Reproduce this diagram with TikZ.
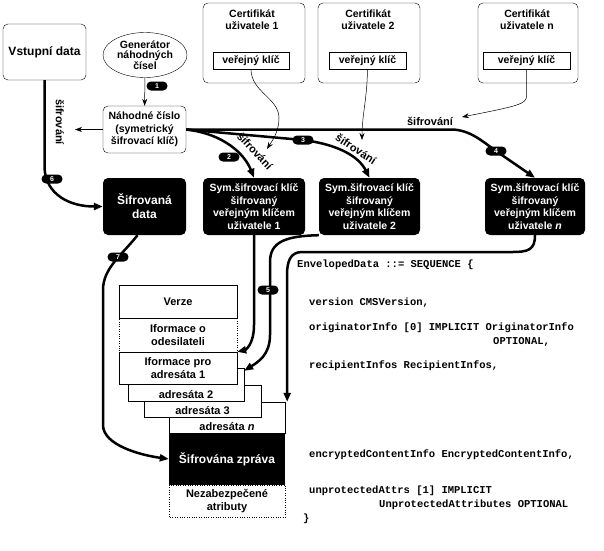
\documentclass[tikz,border=0pt]{standalone}
\usepackage{fontspec}
\setmainfont{Liberation Sans}
\setmonofont{Liberation Mono}
\usetikzlibrary{shapes.geometric,arrows.meta}

\begin{document}
\begin{tikzpicture}[x=1pt, y=-1pt,
    every node/.style={font=\fontsize{10.5}{12.5}\selectfont\bfseries, align=center, inner sep=0pt},
    bigtext/.style={font=\fontsize{12}{14}\selectfont\bfseries},
    wbox/.style={draw, fill=white, rounded corners=5pt},
    bbox/.style={fill=black, text=white, rounded corners=5pt},
    kbox/.style={draw, fill=white, minimum height=17pt},
    sbox/.style={draw, fill=white, font=\fontsize{11}{13}\selectfont\bfseries},
    sif/.style={font=\fontsize{11}{13}\selectfont\bfseries},
    pill/.style={fill=black, text=white, rounded corners=4.4pt, minimum width=21pt, minimum height=9pt, font=\fontsize{7}{7}\selectfont\bfseries},
    code/.style={font=\fontsize{10.5}{12}\selectfont\ttfamily\bfseries, anchor=base west},
    flow/.style={line width=2.5pt, -{Triangle[length=9pt,width=7pt]}},
    link/.style={line width=0.5pt, -{Stealth[length=7pt,width=5pt]}}]
    \useasboundingbox (0,0) rectangle (604,550);

    % sender side
    \node[wbox, minimum width=83pt, minimum height=56pt, bigtext] (vstup) at (44.5,52) {Vstupní data};
    \node[draw, ellipse, fill=white, minimum width=84pt, minimum height=45pt, font=\fontsize{10.5}{10.5}\selectfont\bfseries] (gen) at (145,55) {Generátor\\náhodných\\čísel};
    \node[wbox, minimum width=83pt, minimum height=47pt] (nahod) at (144.5,129.5) {Náhodné číslo\\(symetrický\\šifrovací klíč)};

    % certificates
    \node[wbox, minimum width=102pt, minimum height=80pt] (cert1) at (254,43) {};
    \node (cert1t) at (252,19.5) {Certifikát\\uživatele 1};
    \node[kbox, minimum width=76pt] (key1) at (251,60.5) {veřejný klíč};
    \node[wbox, minimum width=102pt, minimum height=80pt] (cert2) at (369,43) {};
    \node (cert2t) at (368,19.5) {Certifikát\\uživatele 2};
    \node[kbox, minimum width=77pt] (key2) at (367.5,60.5) {veřejný klíč};
    \node[wbox, minimum width=100pt, minimum height=80pt] (certn) at (528,43) {};
    \node (certnt) at (527,19.5) {Certifikát\\uživatele n};
    \node[kbox, minimum width=87pt] (keyn) at (526.5,60.5) {veřejný klíč};

    % encrypted parts
    \node[bbox, minimum width=83pt, minimum height=57pt, bigtext] (sdata) at (144.5,206.5) {Šifrovaná\\data};
    \node[bbox, minimum width=102pt, minimum height=57pt] (sym1) at (254,206.5) {Sym.šifrovací klíč\\šifrovaný\\veřejným klíčem\\uživatele 1};
    \node[bbox, minimum width=101pt, minimum height=57pt] (sym2) at (369.5,206.5) {Sym.šifrovací klíč\\šifrovaný\\veřejným klíčem\\uživatele 2};
    \node[bbox, minimum width=100pt, minimum height=57pt] (symn) at (535,206.5) {Sym.šifrovací klíč\\šifrovaný\\veřejným klíčem\\uživatele \textit{n}};

    % labels
    \node[sif, rotate=-90] (sif0) at (60,122) {šifrování};
    \node[sif, rotate=-47] (sif1) at (255,151) {šifrování};
    \node[sif, rotate=-33] (sif2) at (356,149) {šifrování};
    \node[sif] (sif3) at (430,121) {šifrování};
    \coordinate (sif0e) at (75,129.5);
    \coordinate (c1e) at (267,149);
    \coordinate (c2e) at (362,140);
    \coordinate (c3e) at (462,117);

    % message structure
    \node[sbox, dotted, minimum width=118pt, minimum height=34pt] (odesil) at (178,335) {Iformace o\\odesilateli};
    \node[sbox, minimum width=118pt, minimum height=33pt] (verze) at (178,301.5) {Verze};
    \node[sbox, minimum width=116pt, minimum height=31pt] (adrn) at (227,417.5) {};
    \node[sbox, draw=none, fill=none, anchor=south] (adrnt) at ([yshift=2pt]adrn.south) {adresáta \textit{n}};
    \node[sbox, minimum width=117pt, minimum height=32pt] (adr3) at (202.5,401) {};
    \node[sbox, draw=none, fill=none, anchor=south] (adr3t) at ([yshift=2pt]adr3.south) {adresáta 3};
    \node[sbox, minimum width=116pt, minimum height=33pt] (adr2) at (186,384.5) {};
    \node[sbox, draw=none, fill=none, anchor=south] (adr2t) at ([yshift=2pt]adr2.south) {adresáta 2};
    \node[sbox, minimum width=118pt, minimum height=32pt] (adr1) at (178,368) {Iformace pro\\adresáta 1};
    \node[sbox, draw=none, minimum width=116pt, minimum height=32pt] (nezab) at (227,501) {Nezabezpečené\\atributy};
    \draw[dotted] (nezab.north west) rectangle (nezab.south east);
    \node[fill=black, text=white, minimum width=116pt, minimum height=52pt, bigtext] (zprava) at (227,459) {Šifrována zpráva};

    % thin arrows
    \draw[link] (gen) -- (nahod);
    \draw[link] (nahod) -- (sif0e);
    \draw[link] (key1.south) .. controls (251,92) and (279,98) .. (279,118) .. controls (279,132) and (272,141) .. (c1e);
    \draw[link] (key2.south) .. controls (367,100) and (362,115) .. (c2e);
    \draw[link] (keyn.south) -- (526.5,96) .. controls (526.5,104) and (518,106) .. (c3e);

    % thick arrows
    \draw[flow] (vstup.south) -- (44.5,168) .. controls (46,195) and (70,206.5) .. (sdata.west);
    \draw[flow] (nahod.east) .. controls (225,134) and (245,155) .. (sym1.north);
    \draw[flow] (nahod.east) -- (303,140) .. controls (335,144) and (358,155) .. (sym2.north);
    \draw[flow] (nahod.east) -- (452,129.5) .. controls (470,130) and (482,141) .. (496,151) -- (symn.north);
    \draw[flow] (sym1.south) -- (254,325) .. controls (254,345) and (245,350) .. (adr1.north east);
    \draw[flow] (sym2.south west) .. controls (285,236) and (270,242) .. (270,262) -- (270,335) .. controls (270,355) and (258,362) .. ([yshift=-3pt]adr2.north east);
    \draw[flow] (symn.south) .. controls (535,250) and (528,252) .. (512,252) -- (302,252) .. controls (290,252) and (287,262) .. (287,275) -- ([xshift=2pt]adrn.north east);
    \draw[flow] ([xshift=-7pt]sdata.south) .. controls (122,255) and (103,268) .. (103,290) -- (103,425) .. controls (103,445) and (140,455) .. (zprava.west);

    % step numbers
    \node[pill] (p1) at (157,86) {1};
    \node[pill] (p2) at (229,157) {2};
    \node[pill] (p3) at (303,140) {3};
    \node[pill] (p4) at (496,151) {4};
    \node[pill] (p5) at (268,290) {5};
    \node[pill] (p6) at (52,179) {6};
    \node[pill] (p7) at (118,257) {7};

    % ASN.1 definition
    \node[code] (env) at (297,267) {EnvelopedData ::= SEQUENCE \{};
    \node[code] (ver) at (309,305) {version CMSVersion,};
    \node[code] (orig) at (309,330) {originatorInfo [0] IMPLICIT OriginatorInfo};
    \node[code] (origo) at (493,344) {OPTIONAL,};
    \node[code] (recip) at (309,368) {recipientInfos RecipientInfos,};
    \node[code] (encr) at (309,457) {encryptedContentInfo EncryptedContentInfo,};
    \node[code] (unpr) at (309,493) {unprotectedAttrs [1] IMPLICIT};
    \node[code] (unpro) at (379,507) {UnprotectedAttributes OPTIONAL};
    \node[code] (close) at (303,521) {\}};

\end{tikzpicture}
\end{document}
